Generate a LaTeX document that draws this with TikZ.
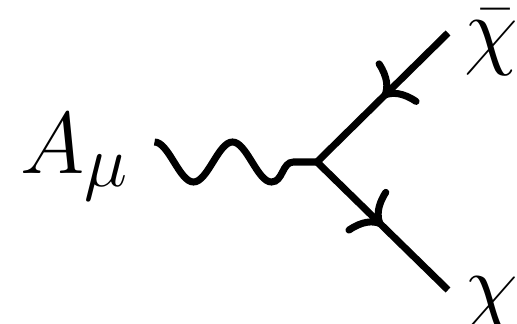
\documentclass[tikz,border=0pt]{standalone}
\usepackage{amsmath}
\usepackage{tikz}
\usetikzlibrary{positioning,arrows.meta,decorations.markings}

\begin{document}
\begin{tikzpicture}[
            node distance=0.2cm,
            lbl/.style={font=\Huge},
            fermion/.style={postaction={decorate},
                decoration={markings,
                mark=at position 0.5 with {\arrow{Computer Modern Rightarrow[length=7pt,width=17pt]}}}},
            photon/.style={},
            line width=2pt
        ]
            \useasboundingbox (0,0) rectangle (5.17,3.24);
            \coordinate (v) at (3.17,1.62);
            \coordinate (a) at (1.545,1.62);
            \coordinate (t) at (4.48,2.91);
            \coordinate (b) at (4.48,0.34);
            \draw[photon] ([yshift=2mm]a) cos ++(0.195,-0.2) sin ++(0.195,-0.2)
                cos ++(0.195,0.2) sin ++(0.195,0.2) cos ++(0.195,-0.2) sin ++(0.195,-0.2)
                to[out=0,in=180] ++(0.22,0.2) -- (v);
            \draw[fermion] (t) -- (v);
            \draw[fermion] (v) -- (b);
            \node[lbl, left=0.1cm of a, yshift=0.5mm] (amu) {$A_\mu$};
            \node[lbl, right=0.01cm of t, yshift=-1mm] (chibar) {$\bar{\chi}$};
            \node[lbl, right=0.01cm of b, yshift=-1.4mm] (chi) {$\chi$};
        \end{tikzpicture}
\end{document}
